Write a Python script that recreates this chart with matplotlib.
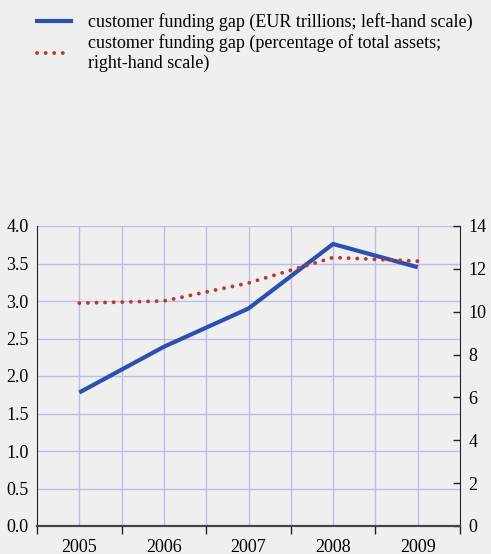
import matplotlib
matplotlib.use("Agg")
import matplotlib.pyplot as plt
from matplotlib.lines import Line2D
import numpy as np

years = [2005, 2006, 2007, 2008, 2009]
gap_eur_trn = [1.78, 2.39, 2.90, 3.76, 3.45]
gap_pct_assets = [10.4, 10.5, 11.34, 12.53, 12.36]
left_ticks = [0.0, 0.5, 1.0, 1.5, 2.0, 2.5, 3.0, 3.5, 4.0]
right_ticks = [0, 2, 4, 6, 8, 10, 12, 14]
legend_labels = ["customer funding gap (EUR trillions; left-hand scale)",
                 "customer funding gap (percentage of total assets;\nright-hand scale)"]

bg = "#efefef"
blue = "#2d4fae"
red = "#b83a2e"
grid_c = "#b9bde8"
dot_style = (0, (0.01, 2.2))

plt.rcParams['font.family'] = ['Liberation Serif', 'DejaVu Serif']

fig = plt.figure(figsize=(4.91, 5.54), dpi=100, facecolor=bg)
ax = fig.add_axes([37/491, 1-526/554, (460-37)/491, (526-226)/554])
ax.set_facecolor(bg)
ax2 = ax.twinx()

ax.set_xlim(2004.5, 2009.5)
ax.set_ylim(0, 4.0)
ax2.set_ylim(0, 14)

# grid
for x in np.arange(2005, 2009.01, 0.5):
    ax.axvline(x, color=grid_c, lw=1, zorder=0)
for y in left_ticks[1:]:
    ax.axhline(y, color=grid_c, lw=1, zorder=0)

ax.plot(years, gap_eur_trn, color=blue, lw=3, solid_capstyle='butt', zorder=3)
ax2.plot(years, gap_pct_assets, color=red, lw=2.8, linestyle=dot_style,
         dash_capstyle='round', zorder=3)

ax.set_yticks(left_ticks)
ax.set_yticklabels([f"{v:.1f}" for v in left_ticks], fontsize=13)
ax.tick_params(axis='y', length=0, pad=6)

ax.set_xticks([y + 0.5 for y in [2004] + years])
ax.set_xticklabels([])
ax.set_xticks(years, minor=True)
ax.set_xticklabels([str(y) for y in years], minor=True, fontsize=13)
ax.tick_params(axis='x', which='major', direction='out', length=6, width=1, color='#222222')
ax.tick_params(axis='x', which='minor', length=0, pad=9)

ax2.set_yticks(right_ticks)
ax2.set_yticklabels([str(v) for v in right_ticks], fontsize=13)
ax2.tick_params(axis='y', direction='in', length=5, width=1, pad=6, color='#222222')

for a in (ax, ax2):
    a.spines['top'].set_visible(False)
    a.spines['left'].set_color('#222222')
    a.spines['right'].set_color('#222222')
    a.spines['bottom'].set_color('#444444')
    a.spines['bottom'].set_linewidth(1.5)
ax2.spines['left'].set_visible(False)
ax.spines['right'].set_visible(False)

handles = [Line2D([], [], color=blue, lw=3),
           Line2D([], [], color=red, lw=2.8, linestyle=dot_style, dash_capstyle='round')]
fig.legend(handles, legend_labels, loc='upper left', bbox_to_anchor=(30/491, 1-6/554),
           frameon=False, fontsize=13, handlelength=1.85, handletextpad=0.95,
           labelspacing=0.15, borderaxespad=0)

fig.savefig("out.png", dpi=100, facecolor=bg)
